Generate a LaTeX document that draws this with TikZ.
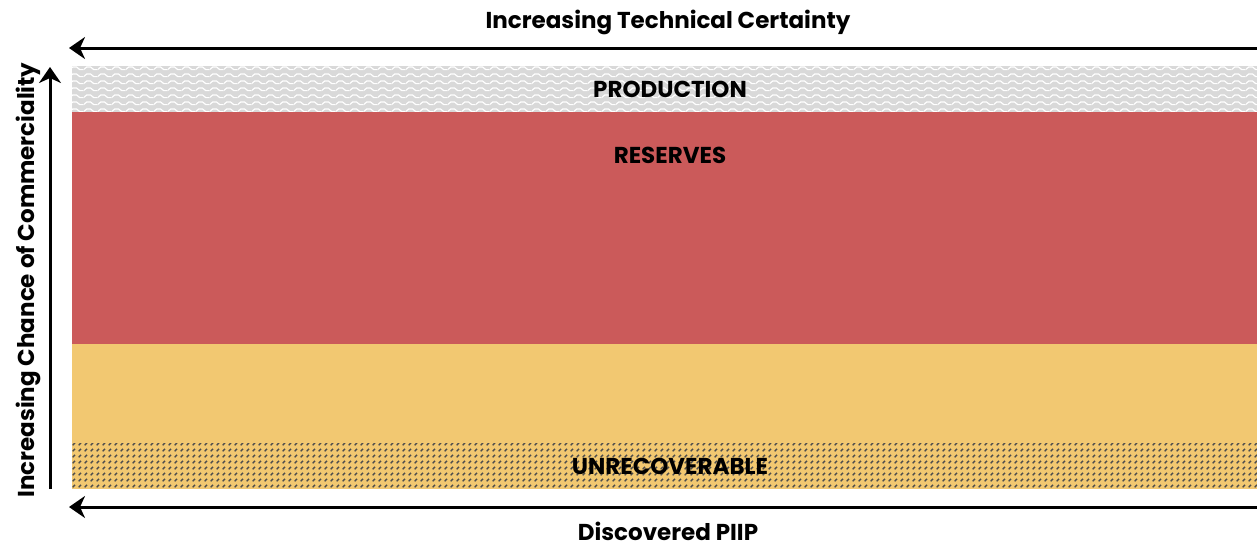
\documentclass[tikz,border=0pt]{standalone}
\usepackage{fontspec}
\setmainfont{Poppins}
\usetikzlibrary{arrows.meta,patterns}
\definecolor{prodgray}{HTML}{D9D9D9}
\definecolor{resred}{HTML}{CB5A5A}
\definecolor{contyellow}{HTML}{F2C871}
\definecolor{hatchgray}{HTML}{4D4D4D}
\pgfdeclarepatternformonly{zigzagw}{\pgfqpoint{0pt}{0pt}}{\pgfqpoint{14pt}{7pt}}{\pgfqpoint{14pt}{7pt}}{%
  \pgfsetlinewidth{1.3pt}
  \pgfpathmoveto{\pgfqpoint{-0.5pt}{1.5pt}}
  \pgfpathlineto{\pgfqpoint{3pt}{4.5pt}}
  \pgfpathlineto{\pgfqpoint{7pt}{4.5pt}}
  \pgfpathlineto{\pgfqpoint{10.5pt}{1.5pt}}
  \pgfpathlineto{\pgfqpoint{14.5pt}{1.5pt}}
  \pgfusepath{stroke}}
\pgfdeclarepatternformonly{dashhatch}{\pgfqpoint{0pt}{0pt}}{\pgfqpoint{6pt}{6pt}}{\pgfqpoint{6pt}{6pt}}{%
  \pgfsetlinewidth{1.6pt}
  \pgfpathmoveto{\pgfqpoint{0.8pt}{0.8pt}}
  \pgfpathlineto{\pgfqpoint{3.6pt}{3.6pt}}
  \pgfusepath{stroke}}
\begin{document}
\begin{tikzpicture}[x=1pt,y=-1pt,
  axarrow/.style={line width=3pt,-{Stealth[length=16pt,width=22pt,inset=5pt]}},
  axlabel/.style={font=\fontsize{23}{26}\selectfont\bfseries,inner sep=0pt},
  bandlabel/.style={font=\fontsize{23}{26}\selectfont\bfseries,inner sep=0pt}]
\useasboundingbox (0,0) rectangle (1257,547);
% bands
\fill[prodgray] (72,66) rectangle (1257,112);
\fill[pattern=zigzagw,pattern color=white] (72,66) rectangle (1257,112);
\fill[resred] (72,112) rectangle (1257,344);
\fill[contyellow] (72,344) rectangle (1257,489);
\fill[pattern=dashhatch,pattern color=hatchgray] (72,443) rectangle (1257,489);
% labels
\node[bandlabel] (prod) at (670,89) {PRODUCTION};
\node[bandlabel] (res) at (670,155) {RESERVES};
\node[bandlabel] (unrec) at (670,466) {UNRECOVERABLE};
% axes
\coordinate (tR) at (1257,48);
\coordinate (tL) at (69,48);
\coordinate (bR) at (1257,507);
\coordinate (bL) at (69,507);
\coordinate (vB) at (50,489);
\coordinate (vT) at (50,67);
\draw[axarrow] (tR) -- (tL);
\draw[axarrow] (bR) -- (bL);
\draw[axarrow] (vB) -- (vT);
\node[axlabel] (ttl) at (668,22) {Increasing Technical Certainty};
\node[axlabel,anchor=base] (btl) at (668,540) {Discovered PIIP};
\node[axlabel,rotate=90] (ltl) at (28,280) {Increasing Chance of Commerciality};
\end{tikzpicture}
\end{document}
